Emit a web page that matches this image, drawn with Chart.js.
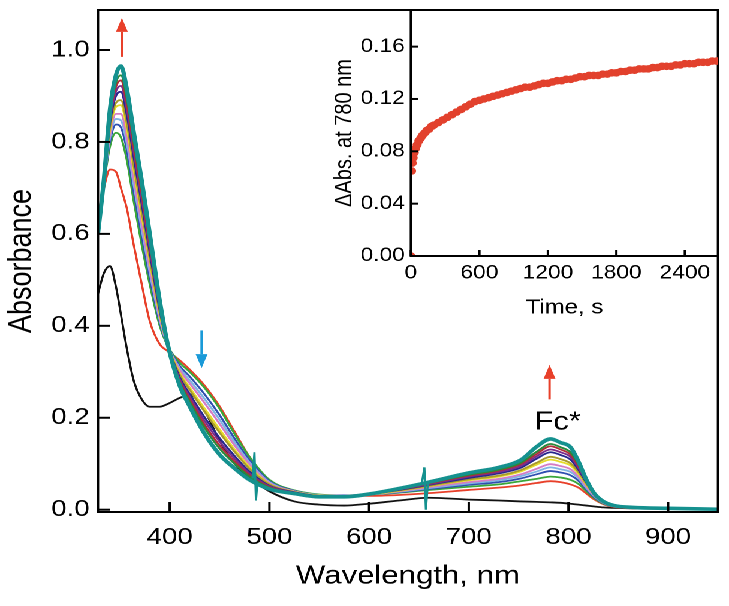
<!DOCTYPE html>
<html>
<head>
<meta charset="utf-8">
<script src="https://cdn.jsdelivr.net/npm/chart.js@4.4.1/dist/chart.umd.min.js"></script>
<style>
  html, body { margin: 0; padding: 0; background: #fff; overflow: hidden; }
  /* the original figure is stretched horizontally, so draw narrow and stretch */
  #wrap { position: absolute; left: 0; top: 0; width: 608px; height: 606px; transform: scaleX(1.19901); transform-origin: 0 0; }
  #mainBox { position: absolute; left: 0; top: 0; width: 608px; height: 606px; }
  #insetBox { position: absolute; left: 260px; top: 0; width: 348px; height: 330px; }
</style>
</head>
<body>
<div id="wrap">
  <div id="mainBox"><canvas id="main"></canvas></div>
  <div id="insetBox"><canvas id="inset"></canvas></div>
</div>
<script>
// ---------- spectra (wavelength in nm, absorbance) ----------
const wavelength = [328, 334, 340, 346, 351, 357, 364, 372, 380, 390, 398, 410, 420, 435, 450, 465, 480, 500, 525, 550,
  575, 600, 630, 660, 700, 730, 752, 768, 782, 792, 802, 810, 818, 826, 835, 846, 865, 900, 950];

const absBlack = [0.47, 0.515, 0.53, 0.485, 0.425, 0.35, 0.28, 0.24, 0.224, 0.224, 0.23, 0.243, 0.25, 0.215, 0.15, 0.10, 0.07, 0.04, 0.018, 0.011,
  0.009, 0.013, 0.02, 0.026, 0.022, 0.02, 0.018, 0.017, 0.016, 0.015, 0.013, 0.011, 0.009, 0.007, 0.005, 0.004, 0.003, 0.002, 0.001];
const absRed = [0.64, 0.70, 0.74, 0.735, 0.70, 0.655, 0.575, 0.49, 0.41, 0.36, 0.345, 0.325, 0.305, 0.27, 0.225, 0.17, 0.115, 0.06, 0.038, 0.03,
  0.03, 0.03, 0.032, 0.036, 0.043, 0.048, 0.053, 0.058, 0.062, 0.06, 0.055, 0.048, 0.035, 0.022, 0.012, 0.006, 0.003, 0.002, 0.001];
const absGreen = [0.62, 0.71, 0.79, 0.82, 0.81, 0.76, 0.67, 0.575, 0.49, 0.40, 0.356, 0.32, 0.30, 0.265, 0.22, 0.165, 0.115, 0.065, 0.042, 0.033,
  0.031, 0.033, 0.037, 0.043, 0.05, 0.055, 0.062, 0.067, 0.072, 0.07, 0.065, 0.056, 0.04, 0.025, 0.013, 0.007, 0.004, 0.002, 0.001];
const absBlue = [0.617, 0.711, 0.801, 0.838, 0.832, 0.782, 0.691, 0.595, 0.505, 0.408, 0.357, 0.313, 0.290, 0.251, 0.206, 0.155, 0.108, 0.062, 0.041, 0.032,
  0.031, 0.033, 0.038, 0.045, 0.054, 0.060, 0.068, 0.077, 0.084, 0.081, 0.075, 0.063, 0.044, 0.027, 0.014, 0.007, 0.004, 0.002, 0.001];
const absSky = [0.615, 0.712, 0.809, 0.850, 0.847, 0.797, 0.706, 0.609, 0.516, 0.413, 0.357, 0.308, 0.282, 0.241, 0.196, 0.147, 0.103, 0.060, 0.040, 0.032,
  0.030, 0.033, 0.039, 0.047, 0.057, 0.064, 0.073, 0.083, 0.092, 0.088, 0.082, 0.068, 0.047, 0.029, 0.015, 0.007, 0.004, 0.002, 0.001];
const absPink = [0.613, 0.713, 0.816, 0.861, 0.861, 0.811, 0.720, 0.621, 0.526, 0.418, 0.357, 0.304, 0.275, 0.232, 0.187, 0.140, 0.099, 0.058, 0.040, 0.031,
  0.030, 0.033, 0.040, 0.049, 0.060, 0.067, 0.077, 0.089, 0.099, 0.095, 0.088, 0.072, 0.050, 0.030, 0.015, 0.008, 0.004, 0.002, 0.001];
const absYellow = [0.611, 0.715, 0.826, 0.876, 0.880, 0.830, 0.738, 0.638, 0.540, 0.425, 0.358, 0.298, 0.266, 0.220, 0.175, 0.131, 0.093, 0.056, 0.039, 0.031,
  0.030, 0.033, 0.041, 0.051, 0.064, 0.072, 0.083, 0.098, 0.109, 0.104, 0.096, 0.078, 0.054, 0.032, 0.016, 0.008, 0.004, 0.002, 0.001];
const absOlive = [0.610, 0.715, 0.832, 0.885, 0.891, 0.841, 0.748, 0.648, 0.547, 0.429, 0.358, 0.294, 0.261, 0.213, 0.168, 0.126, 0.089, 0.055, 0.038, 0.030,
  0.029, 0.034, 0.042, 0.052, 0.066, 0.074, 0.086, 0.102, 0.115, 0.110, 0.101, 0.082, 0.056, 0.033, 0.017, 0.008, 0.004, 0.002, 0.001];
const absNavy = [0.607, 0.716, 0.841, 0.900, 0.909, 0.859, 0.766, 0.665, 0.560, 0.435, 0.359, 0.288, 0.252, 0.201, 0.156, 0.117, 0.083, 0.052, 0.038, 0.030,
  0.029, 0.034, 0.043, 0.054, 0.069, 0.079, 0.091, 0.111, 0.125, 0.119, 0.109, 0.087, 0.059, 0.035, 0.018, 0.008, 0.005, 0.003, 0.001];
const absPurple = [0.606, 0.717, 0.848, 0.910, 0.922, 0.872, 0.778, 0.676, 0.569, 0.440, 0.359, 0.284, 0.246, 0.193, 0.148, 0.111, 0.079, 0.051, 0.037, 0.029,
  0.029, 0.034, 0.044, 0.055, 0.072, 0.082, 0.095, 0.116, 0.131, 0.125, 0.115, 0.091, 0.062, 0.036, 0.018, 0.008, 0.005, 0.003, 0.001];
const absMaroon = [0.604, 0.718, 0.854, 0.920, 0.934, 0.884, 0.790, 0.687, 0.578, 0.444, 0.359, 0.280, 0.240, 0.185, 0.140, 0.105, 0.075, 0.049, 0.036, 0.029,
  0.029, 0.034, 0.044, 0.057, 0.074, 0.085, 0.099, 0.121, 0.138, 0.131, 0.120, 0.095, 0.064, 0.037, 0.019, 0.009, 0.005, 0.003, 0.001];
const absDkGreen = [0.603, 0.719, 0.860, 0.929, 0.945, 0.895, 0.801, 0.697, 0.586, 0.448, 0.359, 0.277, 0.235, 0.178, 0.133, 0.100, 0.072, 0.048, 0.036, 0.029,
  0.028, 0.034, 0.045, 0.058, 0.076, 0.087, 0.102, 0.126, 0.143, 0.136, 0.125, 0.099, 0.066, 0.038, 0.019, 0.009, 0.005, 0.003, 0.001];
const absTeal = [0.60, 0.72, 0.87, 0.945, 0.965, 0.915, 0.82, 0.715, 0.60, 0.455, 0.36, 0.27, 0.225, 0.165, 0.12, 0.09, 0.065, 0.045, 0.035, 0.028,
  0.028, 0.034, 0.046, 0.06, 0.08, 0.092, 0.108, 0.137, 0.154, 0.146, 0.136, 0.105, 0.065, 0.035, 0.018, 0.009, 0.005, 0.003, 0.001];

const spectra = [absBlack, absRed, absGreen, absBlue, absSky, absPink, absYellow, absOlive, absNavy, absPurple, absMaroon, absDkGreen, absTeal];
const spectraColors = ["#111111", "#e8402a", "#3aa63a", "#2f4fb0", "#80b4e4", "#d47cc4", "#e6dc2a", "#a89a2c", "#27268c", "#7a2c8c", "#b02c38", "#2a8a3c", "#15918f"];

// lamp-line glitches at 486 and 656 nm on the last spectrum
const spikeWl = [483, 485, 486.5, 488, null, 653, 655.5, 657, 659];
const spikeAbs = [0.068, 0.125, 0.02, 0.062, null, 0.058, 0.092, 0.0, 0.06];

const xTicks = [400, 500, 600, 700, 800, 900];
const yTicks = [0, 0.2, 0.4, 0.6, 0.8, 1.0];

// ---------- inset: ΔAbs at 780 nm vs time ----------
const insetTime = [0, 6, 12, 20, 30, 40, 55, 70, 85, 100, 120, 140, 160, 180, 200, 240, 280, 320, 360, 400,
  440, 480, 520, 560, 600, 640, 680, 720, 760, 800, 840, 880, 920, 960, 1000, 1040, 1080, 1120, 1160, 1200,
  1240, 1280, 1320, 1360, 1400, 1440, 1480, 1520, 1560, 1600, 1640, 1680, 1720, 1760, 1800, 1840, 1880, 1920, 1960, 2000,
  2040, 2080, 2120, 2160, 2200, 2240, 2280, 2320, 2360, 2400, 2440, 2480, 2520, 2560, 2600, 2640, 2680];
const insetDelta = [0.000, 0.065, 0.071, 0.075, 0.079, 0.082, 0.085, 0.088, 0.090, 0.092, 0.094, 0.096, 0.097, 0.099, 0.100, 0.102, 0.104, 0.106, 0.108, 0.110,
  0.112, 0.114, 0.116, 0.118, 0.119, 0.120, 0.121, 0.122, 0.123, 0.124, 0.125, 0.126, 0.127, 0.128, 0.129, 0.129, 0.130, 0.131, 0.132, 0.132,
  0.133, 0.134, 0.134, 0.135, 0.135, 0.136, 0.137, 0.137, 0.138, 0.138, 0.138, 0.139, 0.139, 0.140, 0.140, 0.141, 0.141, 0.142, 0.142, 0.143,
  0.143, 0.143, 0.144, 0.144, 0.145, 0.145, 0.145, 0.146, 0.146, 0.147, 0.147, 0.147, 0.148, 0.148, 0.148, 0.149, 0.149];
const insetXTicks = [0, 600, 1200, 1800, 2400];
const insetYTicks = [0, 0.04, 0.08, 0.12, 0.16];

// arrows: [wavelength, from, to, colour]
const arrows = [[352, 0.985, 1.07, "#e8402a"], [432, 0.39, 0.308, "#1a9ad8"], [781, 0.24, 0.315, "#e8402a"]];

const FONT = "'Liberation Sans', Arial, Helvetica, sans-serif";

function line(ctx, x0, y0, x1, y1) {
  ctx.beginPath(); ctx.moveTo(x0, y0); ctx.lineTo(x1, y1); ctx.stroke();
}

// keep the plot area exactly where the layout puts it (no room for edge labels)
function noEdgePad(s) {
  s.paddingTop = 0; s.paddingBottom = 0; s.paddingLeft = 0; s.paddingRight = 0;
}

// inward tick marks + frame
const frameTicks = {
  id: "frameTicks",
  afterDatasetsDraw(chart, args, o) {
    const { ctx, chartArea: a, scales } = chart;
    ctx.save();
    ctx.strokeStyle = "#000";
    ctx.lineWidth = o.lineWidth;
    scales.x.ticks.forEach((t, i) => {
      const p = scales.x.getPixelForTick(i);
      line(ctx, p, a.bottom, p, a.bottom - o.len);
    });
    scales.y.ticks.forEach((t, i) => {
      const p = scales.y.getPixelForTick(i);
      line(ctx, a.left, p, a.left + o.len, p);
    });
    if (o.full) {
      ctx.strokeRect(a.left, a.top, a.right - a.left, a.bottom - a.top);
    } else {
      line(ctx, a.left, a.top, a.left, a.bottom + o.lineWidth / 2);
      line(ctx, a.left, a.bottom, a.right, a.bottom);
    }
    ctx.restore();
  }
};

function drawArrow(ctx, px, y0, y1, color) {
  const dir = Math.sign(y1 - y0), headLen = 14, headW = 5;
  ctx.strokeStyle = color; ctx.fillStyle = color; ctx.lineWidth = 2;
  line(ctx, px, y0, px, y1 - dir * headLen);
  ctx.beginPath();
  ctx.moveTo(px - headW, y1 - dir * headLen);
  ctx.lineTo(px + headW, y1 - dir * headLen);
  ctx.lineTo(px, y1);
  ctx.closePath(); ctx.fill();
}

const notes = {
  id: "notes",
  afterDatasetsDraw(chart) {
    const { ctx, scales: { x, y } } = chart;
    ctx.save();
    arrows.forEach(([w, a, b, c]) => drawArrow(ctx, x.getPixelForValue(w), y.getPixelForValue(a), y.getPixelForValue(b), c));
    ctx.fillStyle = "#000";
    ctx.font = "26px " + FONT;
    ctx.textAlign = "center";
    ctx.textBaseline = "middle";
    ctx.fillText("Fc*", x.getPixelForValue(789), y.getPixelForValue(0.19));
    ctx.restore();
  }
};

// ================== MAIN CHART ==================
const datasets = spectra.map((vals, i) => ({
  data: wavelength.map((w, k) => ({ x: w, y: vals[k] })),
  borderColor: spectraColors[i],
  borderWidth: i === spectra.length - 1 ? 3.6 : 1.8,
  pointRadius: 0,
  cubicInterpolationMode: "monotone",
  order: spectra.length - i
}));
datasets.push({
  data: spikeWl.map((w, k) => (w === null ? { x: null, y: null } : { x: w, y: spikeAbs[k] })),
  borderColor: spectraColors[spectra.length - 1],
  borderWidth: 1.8,
  pointRadius: 0,
  spanGaps: false,
  order: 0
});

new Chart(document.getElementById("main"), {
  type: "line",
  data: { datasets },
  options: {
    responsive: true,
    maintainAspectRatio: false,
    animation: false,
    devicePixelRatio: 2,
    layout: { padding: { top: 10, right: 9.2, left: 0, bottom: 0 } },
    plugins: { legend: { display: false }, tooltip: { enabled: false }, frameTicks: { lineWidth: 2, len: 10, full: true } },
    scales: {
      x: {
        type: "linear", min: 328, max: 950,
        afterBuildTicks: s => { s.ticks = xTicks.map(v => ({ value: v })); },
        afterFit: s => { s.height = 94; noEdgePad(s); },
        grid: { display: false, drawTicks: false }, border: { display: false },
        ticks: { color: "#000", font: { family: FONT, size: 23 }, padding: 12, maxRotation: 0, callback: v => String(v) },
        title: { display: true, text: "Wavelength, nm", color: "#000", font: { family: FONT, size: 26 }, padding: { top: 0, bottom: 14 } }
      },
      y: {
        type: "linear", min: -0.005, max: 1.087,
        afterBuildTicks: s => { s.ticks = yTicks.map(v => ({ value: v })); },
        afterFit: s => { s.width = 81.7; noEdgePad(s); },
        grid: { display: false, drawTicks: false }, border: { display: false },
        ticks: { color: "#000", font: { family: FONT, size: 23 }, padding: 7, callback: v => v.toFixed(1) },
        title: { display: true, text: "Absorbance", color: "#000", font: { family: FONT, size: 27 }, padding: { top: 2, bottom: 0 } }
      }
    }
  },
  plugins: [frameTicks, notes]
});

// ================== INSET ==================
new Chart(document.getElementById("inset"), {
  type: "scatter",
  data: {
    datasets: [{
      data: insetTime.map((t, i) => ({ x: t, y: insetDelta[i] })),
      backgroundColor: "#e2412d",
      borderWidth: 0,
      pointRadius: 3.8
    }]
  },
  options: {
    responsive: true,
    maintainAspectRatio: false,
    animation: false,
    devicePixelRatio: 2,
    layout: { padding: { top: 10, right: 9.2, left: 0, bottom: 0 } },
    plugins: { legend: { display: false }, tooltip: { enabled: false }, frameTicks: { lineWidth: 2, len: 6, full: false } },
    scales: {
      x: {
        type: "linear", min: 0, max: 2690,
        afterBuildTicks: s => { s.ticks = insetXTicks.map(v => ({ value: v })); },
        afterFit: s => { s.height = 74; noEdgePad(s); },
        grid: { display: false, drawTicks: false }, border: { display: false },
        ticks: { color: "#000", font: { family: FONT, size: 19 }, padding: 6, maxRotation: 0, callback: v => String(v) },
        title: { display: true, text: "Time, s", color: "#000", font: { family: FONT, size: 20 }, padding: { top: 0, bottom: 10 } }
      },
      y: {
        type: "linear", min: 0, max: 0.188,
        afterBuildTicks: s => { s.ticks = insetYTicks.map(v => ({ value: v })); },
        afterFit: s => { s.width = 82.7; noEdgePad(s); },
        grid: { display: false, drawTicks: false }, border: { display: false },
        ticks: { color: "#000", font: { family: FONT, size: 19 }, padding: 5, callback: v => v.toFixed(2) },
        title: { display: true, text: "ΔAbs. at 780 nm", color: "#000", font: { family: FONT, size: 20 }, padding: { top: 15.5, bottom: 0 } }
      }
    }
  },
  plugins: [frameTicks]
});
</script>
</body>
</html>
